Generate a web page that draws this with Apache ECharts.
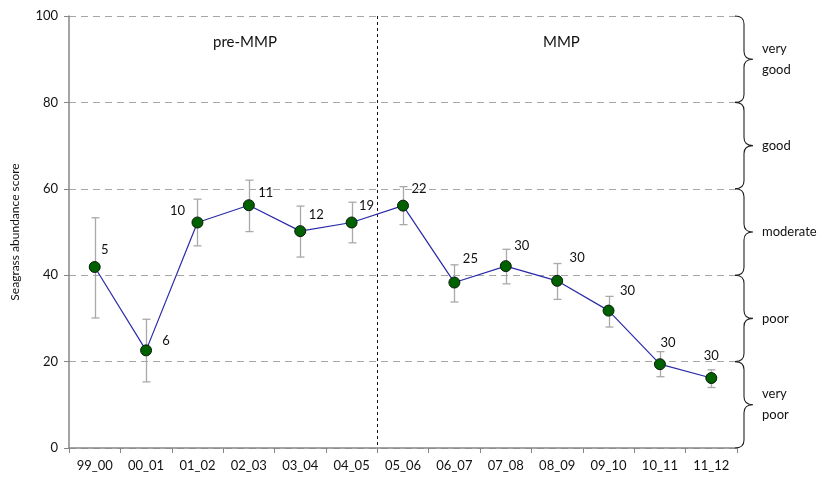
<!DOCTYPE html>
<html><head><meta charset="utf-8">
<script src="https://cdn.jsdelivr.net/npm/echarts@6/dist/echarts.min.js"></script>
<style>html,body{margin:0;padding:0;background:#fff}#c{width:823px;height:480px}</style>
</head><body><div id="c"></div>
<script>
const categories = ['99_00','00_01','01_02','02_03','03_04','04_05','05_06','06_07','07_08','08_09','09_10','10_11','11_12'];
const scores = [41.9, 22.6, 52.2, 56.2, 50.2, 52.2, 56.1, 38.3, 42.1, 38.7, 31.8, 19.4, 16.2];
const errLow = [30.1, 15.3, 46.8, 50.1, 44.2, 47.5, 51.7, 33.8, 38.0, 34.4, 28.0, 16.5, 14.0];
const errHigh = [53.3, 29.8, 57.6, 62.0, 56.0, 56.9, 60.5, 42.4, 46.0, 42.7, 35.1, 22.3, 18.1];
const sampleSizes = [5, 6, 10, 11, 12, 19, 22, 25, 30, 30, 30, 30, 30];
const yTicks = [0, 20, 40, 60, 80, 100];
const bandLows = [0, 20, 40, 60, 80];
const bandHighs = [20, 40, 60, 80, 100];
const bandNames = ['very\npoor', 'poor', 'moderate', 'good', 'very\ngood'];
const periodNames = ['pre-MMP', 'MMP'];
const periodSplitIndex = 6;

// label placement (presentation only)
const labelOffsets = [[10,-17],[20,-10],[-20,-12],[17,-12],[16,-16],[15,-17],[16,-17],[16,-24],[16,-20],[20,-23],[19,-20],[8,-21],[0,-22]];

const FONT = 'Lato, "Open Sans", sans-serif';
const chart = echarts.init(document.getElementById('c'), null, {renderer: 'canvas'});

const errData = categories.map((c, i) => [i, errLow[i], errHigh[i]]);
const bandData = bandLows.map((lo, i) => [0, lo, bandHighs[i], i]);

chart.setOption({
  animation: false,
  textStyle: {fontFamily: FONT},
  grid: {left: 69, right: 86, top: 16, bottom: 32, containLabel: false},
  xAxis: {
    type: 'category', data: categories, boundaryGap: true,
    axisLine: {lineStyle: {color: '#868686', width: 1.5}},
    axisTick: {show: true, length: 5, lineStyle: {color: '#868686'}},
    axisLabel: {color: '#111', fontSize: 13, fontFamily: FONT, margin: 11, interval: 0},
    splitLine: {show: false}
  },
  yAxis: {
    type: 'value', min: yTicks[0], max: yTicks[yTicks.length-1], interval: 20,
    name: 'Seagrass abundance score', nameLocation: 'middle', nameGap: 48,
    nameTextStyle: {fontSize: 12, color: '#111', fontFamily: FONT},
    axisLine: {show: true, lineStyle: {color: '#868686', width: 1.5}},
    axisTick: {show: true, length: 5, lineStyle: {color: '#868686'}},
    axisLabel: {color: '#111', fontSize: 13, fontFamily: FONT, margin: 11},
    splitLine: {show: true, lineStyle: {color: '#a6a6a6', type: [7, 5], width: 1}}
  },
  graphic: [
    {type: 'text', left: 213, top: 35, style: {text: periodNames[0], fontSize: 15, fontFamily: FONT, fill: '#111'}},
    {type: 'text', left: 543, top: 35, style: {text: periodNames[1], fontSize: 15, fontFamily: FONT, fill: '#111'}}
  ],
  series: [
    {
      type: 'custom', name: 'split', z: 1,
      data: [[periodSplitIndex, 0, 100]],
      encode: {x: 0, y: [1, 2]},
      renderItem: function (params, api) {
        const p = api.coord([api.value(0), api.value(2)]);
        const b = api.coord([api.value(0), api.value(1)]);
        const half = api.size([1, 0])[0] / 2;
        const x = Math.round(p[0] - half) + 0.5;
        return {type: 'line', shape: {x1: x, y1: p[1], x2: x, y2: b[1]},
          style: {stroke: '#111', lineWidth: 1, lineDash: [3, 3]}};
      }
    },
    {
      type: 'custom', name: 'err', z: 2,
      data: errData,
      encode: {x: 0, y: [1, 2]},
      renderItem: function (params, api) {
        const lo = api.coord([api.value(0), api.value(1)]);
        const hi = api.coord([api.value(0), api.value(2)]);
        const x = Math.round(lo[0]) + 0.5;
        const w = 4;
        const st = {stroke: '#a9a9a9', lineWidth: 1.3};
        return {type: 'group', children: [
          {type: 'line', shape: {x1: x, y1: hi[1], x2: x, y2: lo[1]}, style: st},
          {type: 'line', shape: {x1: x - w, y1: hi[1], x2: x + w, y2: hi[1]}, style: st},
          {type: 'line', shape: {x1: x - w, y1: lo[1], x2: x + w, y2: lo[1]}, style: st}
        ]};
      }
    },
    {
      type: 'line', name: 'score', z: 3,
      data: scores.map((v, i) => ({
        value: v,
        label: {show: true, position: 'inside', offset: labelOffsets[i],
          formatter: String(sampleSizes[i]), color: '#111', fontSize: 13, fontFamily: FONT}
      })),
      symbol: 'circle', symbolSize: 11,
      lineStyle: {color: '#2a2aa8', width: 1.2},
      itemStyle: {color: '#006100', borderColor: '#0a1a0a', borderWidth: 1},
      emphasis: {disabled: true}
    },
    {
      type: 'custom', name: 'bands', z: 2,
      data: bandData,
      encode: {x: 0, y: [1, 2]},
      clip: false,
      renderItem: function (params, api) {
        const top = api.coord([0, api.value(2)])[1];
        const bot = api.coord([0, api.value(1)])[1];
        const mid = (top + bot) / 2;
        const x0 = params.coordSys.x + params.coordSys.width - 2;
        const x1 = x0 + 9, x2 = x0 + 18, r = 8;
        const path = 'M' + x0 + ' ' + top + ' Q' + x1 + ' ' + top + ' ' + x1 + ' ' + (top + r) +
          ' L' + x1 + ' ' + (mid - r) + ' Q' + x1 + ' ' + mid + ' ' + x2 + ' ' + mid +
          ' Q' + x1 + ' ' + mid + ' ' + x1 + ' ' + (mid + r) +
          ' L' + x1 + ' ' + (bot - r) + ' Q' + x1 + ' ' + bot + ' ' + x0 + ' ' + bot;
        return {type: 'group', children: [
          {type: 'path', shape: {pathData: path}, style: {stroke: '#222', lineWidth: 1.1, fill: null}},
          {type: 'text', x: x0 + 27, y: mid, style: {text: bandNames[api.value(3)], fontSize: 13,
            fontFamily: FONT, fill: '#111', verticalAlign: 'middle', align: 'left', lineHeight: 21}}
        ]};
      }
    }
  ]
});
</script>
</body></html>
